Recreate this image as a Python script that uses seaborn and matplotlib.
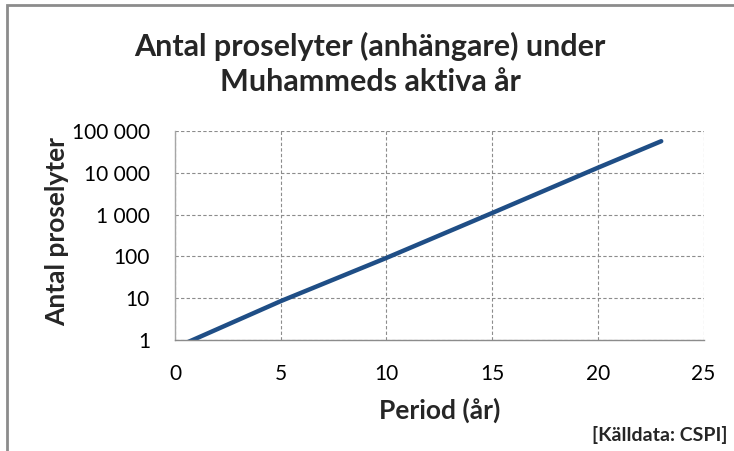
import matplotlib
matplotlib.use("Agg")
import matplotlib.pyplot as plt
import matplotlib.ticker as mticker
from matplotlib.patches import Rectangle
import seaborn as sns
import pandas as pd

# Data (log-scale straight line)
years = [0, 5, 10, 15, 20, 23]
proselytes = [0.65, 8.5, 92, 1090, 13200, 57000]

title = "Antal proselyter (anhängare) under\nMuhammeds aktiva år"
xlabel = "Period (år)"
ylabel = "Antal proselyter"
source = "[Källdata: CSPI]"
yticks = [1, 10, 100, 1000, 10000, 100000]
ytick_labels = ["1", "10", "100", "1 000", "10 000", "100 000"]
xticks = [0, 5, 10, 15, 20, 25]

sns.set_theme(style="white")
plt.rcParams["font.family"] = ["Lato", "DejaVu Sans"]

df = pd.DataFrame({"year": years, "n": proselytes})

W, H = 734, 451
L, R, T, B = 175, 703.5, 131, 340
fig = plt.figure(figsize=(W / 100, H / 100), dpi=100)
fig.patch.set_facecolor("white")
ax = fig.add_axes([L / W, 1 - B / H, (R - L) / W, (B - T) / H])

sns.lineplot(data=df, x="year", y="n", ax=ax, color="#1F4E86", linewidth=3.2,
             solid_capstyle="round")
ax.set_yscale("log")
ax.set_ylim(1, 100000)
ax.set_xlim(0, 25)
ax.set_yticks(yticks)
ax.set_yticklabels(ytick_labels)
ax.yaxis.set_minor_locator(mticker.NullLocator())
ax.set_xticks(xticks)

ax.grid(True, which="major", linestyle=(0, (3, 2)), color="#8C8C8C", linewidth=0.8)
for s in ["top", "right"]:
    ax.spines[s].set_visible(False)
ax.spines["left"].set_color("#A6A6A6")
ax.spines["bottom"].set_color("#8C8C8C")
ax.spines["left"].set_linewidth(1)
ax.spines["bottom"].set_linewidth(1)
ax.tick_params(axis="both", which="major", direction="out", length=5, width=1,
               color="#8C8C8C", labelsize=15, labelcolor="black")
ax.tick_params(axis="y", pad=13)
ax.tick_params(axis="x", pad=12)

ax.set_xlabel(xlabel, fontsize=19, fontweight="bold")
ax.set_ylabel(ylabel, fontsize=19, fontweight="bold")
ax.xaxis.set_label_coords((440 - L) / (R - L), -(410 - B) / (B - T))
ax.yaxis.set_label_coords(-(L - 57) / (R - L), (B - 232) / (B - T))
ax.xaxis.label.set_va("center")
ax.yaxis.label.set_va("center")

fig.text(370 / W, 1 - 64 / H, title, ha="center", va="center", fontsize=22,
         fontweight="bold", linespacing=1.3)
fig.text(728 / W, 1 - 435 / H, source, ha="right", va="center", fontsize=14,
         fontweight="bold")

fig.patches.append(Rectangle((7 / W, -0.1), 1.2, 1 - 5 / H + 0.1, transform=fig.transFigure,
                             fill=False, edgecolor="#8C8C8C", linewidth=2))

fig.savefig("out.png", dpi=100, facecolor="white")
